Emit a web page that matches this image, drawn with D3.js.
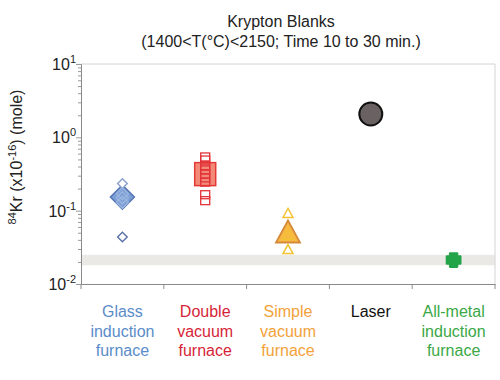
<!DOCTYPE html>
<html><head><meta charset="utf-8">
<script src="https://cdn.jsdelivr.net/npm/d3@7"></script>
<style>
html,body{margin:0;padding:0;background:#fff;}
text{font-family:"Liberation Sans",Arial,sans-serif;}
</style></head>
<body>
<svg id="c" width="500" height="380"></svg>
<script>
// ---- data ----
const categories = ["Glass induction furnace","Double vacuum furnace","Simple vacuum furnace","Laser","All-metal induction furnace"];
const categoryLines = [["Glass","induction","furnace"],["Double","vacuum","furnace"],["Simple","vacuum","furnace"],["Laser"],["All-metal","induction","furnace"]];
const categoryColors = ["#5b8cc9","#d61f38","#f2a23a","#111111","#3aa846"];
const glassPoints = [0.234, 0.17, 0.15, 0.13, 0.0437];
const glassMean = [0.153];
const doublePoints = [0.54, 0.49, 0.41, 0.36, 0.315, 0.28, 0.245, 0.165, 0.137];
const doubleMean = [0.315];
const simplePoints = [0.093, 0.047, 0.030];
const simpleMean = [0.052];
const laserPoints = [2.08];
const allMetalPoints = [0.0212];
const blankBand = [0.018, 0.025];
const yTickValues = [0.01, 0.1, 1, 10];
const yTickExponents = ["-2","-1","0","1"];
const titleLines = ["Krypton Blanks","(1400<T(°C)<2150; Time 10 to 30 min.)"];

// ---- layout ----
const svg = d3.select("#c");
const L = 81, R = 495, T = 64, B = 284;
const x = d3.scaleBand().domain(categories).range([L, R]);
const y = d3.scaleLog().domain([0.01, 10]).range([B, T]);
const cx = c => x(c) + x.bandwidth()/2;

// band
svg.append("rect").attr("x", L).attr("width", R - L)
  .attr("y", y(blankBand[1])).attr("height", y(blankBand[0]) - y(blankBand[1]))
  .attr("fill", "#ebe9e6");

// frame top/right
svg.append("line").attr("x1", L).attr("x2", R).attr("y1", T).attr("y2", T).attr("stroke", "#d4d4d4");
svg.append("line").attr("x1", R).attr("x2", R).attr("y1", T).attr("y2", B).attr("stroke", "#d4d4d4");

// y axis
const minor = [];
for (let e = -2; e < 1; e++) for (let m = 1; m < 10; m++) minor.push(m * Math.pow(10, e));
minor.push(10);
const yAxis = svg.append("g").attr("transform", `translate(${L},0)`)
  .call(d3.axisLeft(y).tickValues(minor).tickSize(3).tickFormat(""));
yAxis.select(".domain").attr("stroke", "#8a8a8a");
yAxis.selectAll(".tick line").attr("stroke", "#9a9a9a")
  .attr("x2", d => yTickValues.some(v => Math.abs(v - d) < 1e-9) ? -5 : -3);
yTickValues.forEach((v, i) => {
  const t = svg.append("text").attr("x", L - 5).attr("y", y(v) + 6)
    .attr("text-anchor", "end").attr("font-size", 16).attr("fill", "#222");
  t.append("tspan").text("10");
  t.append("tspan").attr("dy", -7).attr("font-size", 11).text(yTickExponents[i]);
});

// x axis
const xAxis = svg.append("g").attr("transform", `translate(0,${B})`)
  .call(d3.axisBottom(x).tickSize(0).tickFormat(""));
xAxis.select(".domain").attr("stroke", "#8a8a8a");
const bounds = categories.map(c => x(c)).concat([x.range()[1]]);
xAxis.selectAll(".bt").data(bounds).enter().append("line")
  .attr("x1", d => d).attr("x2", d => d).attr("y1", 0).attr("y2", 5).attr("stroke", "#8a8a8a");

// category labels
categories.forEach((c, i) => {
  const t = svg.append("text").attr("x", cx(c)).attr("y", 317)
    .attr("text-anchor", "middle").attr("font-size", 16).attr("fill", categoryColors[i]);
  categoryLines[i].forEach((ln, j) => {
    t.append("tspan").attr("x", cx(c)).attr("dy", j === 0 ? 0 : 19.5).text(ln);
  });
});

// titles
titleLines.forEach((s, i) => {
  svg.append("text").attr("x", 281).attr("y", 27 + i * 20).attr("text-anchor", "middle")
    .attr("font-size", 16).attr("fill", "#222").text(s);
});

// y label
const yl = svg.append("text").attr("transform", "translate(22,157) rotate(-90)")
  .attr("text-anchor", "middle").attr("font-size", 16).attr("fill", "#222");
yl.append("tspan").attr("font-size", 11).attr("dy", -6).text("84");
yl.append("tspan").attr("dy", 6).text("Kr (x10");
yl.append("tspan").attr("font-size", 11).attr("dy", -6).text("-16");
yl.append("tspan").attr("dy", 6).text(") (mole)");

// ---- markers ----
const diamond = h => `M0,${-h}L${h},0L0,${h}L${-h},0Z`;
// glass
const gx = cx(categories[0]);
svg.append("g").selectAll("path").data(glassMean).enter().append("path")
  .attr("d", diamond(12)).attr("transform", d => `translate(${gx},${y(d)})`)
  .attr("fill", "#7d9fd6").attr("stroke", "#5878b4").attr("stroke-width", 1.5);
svg.append("g").selectAll("path").data(glassPoints).enter().append("path")
  .attr("d", (d, i) => diamond(i === 0 || i === glassPoints.length - 1 ? 4.8 : 6))
  .attr("transform", d => `translate(${gx},${y(d)})`)
  .attr("fill", (d, i) => (i === 0 || i === glassPoints.length - 1) ? "#fff" : "none")
  .attr("stroke", (d, i) => i === 0 ? "#8aa0c8" : (i === glassPoints.length - 1 ? "#5a72a8" : "#9bb5e0"))
  .attr("stroke-width", 1.4);

// double
const dx = cx(categories[1]);
svg.append("g").selectAll("rect").data(doubleMean).enter().append("rect")
  .attr("x", dx - 10.5).attr("width", 21).attr("y", d => y(d) - 11.5).attr("height", 23)
  .attr("fill", "#f38a78").attr("stroke", "#e33a33").attr("stroke-width", 1.5);
svg.append("g").selectAll("rect").data(doublePoints).enter().append("rect")
  .attr("x", dx - 4.5).attr("width", 9).attr("y", d => y(d) - 4).attr("height", 8)
  .attr("fill", "none").attr("stroke", "#e2343a").attr("stroke-width", 1.3);

// simple
const sx = cx(categories[2]);
const tri = (w, h) => `M0,${-h/2}L${w/2},${h/2}L${-w/2},${h/2}Z`;
svg.append("g").selectAll("path").data(simpleMean).enter().append("path")
  .attr("d", tri(24, 22)).attr("transform", d => `translate(${sx},${y(d)})`)
  .attr("fill", "#f7b944").attr("stroke", "#d58a3a").attr("stroke-width", 1.8);
svg.append("g").selectAll("path").data(simplePoints).enter().append("path")
  .attr("d", tri(10, 9)).attr("transform", d => `translate(${sx},${y(d)})`)
  .attr("fill", (d, i) => i === 1 ? "none" : "#fff").attr("stroke", "#f2c230").attr("stroke-width", 1.5);

// laser
const lx = cx(categories[3]);
svg.append("g").selectAll("circle").data(laserPoints).enter().append("circle")
  .attr("cx", lx).attr("cy", d => y(d)).attr("r", 11.5)
  .attr("fill", "#696162").attr("stroke", "#111").attr("stroke-width", 2);

// all-metal
const ax = cx(categories[4]);
const cross = (e, a) => `M${-a},${-e}H${a}V${-a}H${e}V${a}H${a}V${e}H${-a}V${a}H${-e}V${-a}H${-a}Z`;
svg.append("g").selectAll("path").data(allMetalPoints).enter().append("path")
  .attr("d", cross(6.8, 3.6)).attr("transform", d => `translate(${ax},${y(d)})`)
  .attr("fill", "#23a449").attr("stroke", "#23a449").attr("stroke-width", 2.2).attr("stroke-linejoin", "round");
</script>
</body></html>
